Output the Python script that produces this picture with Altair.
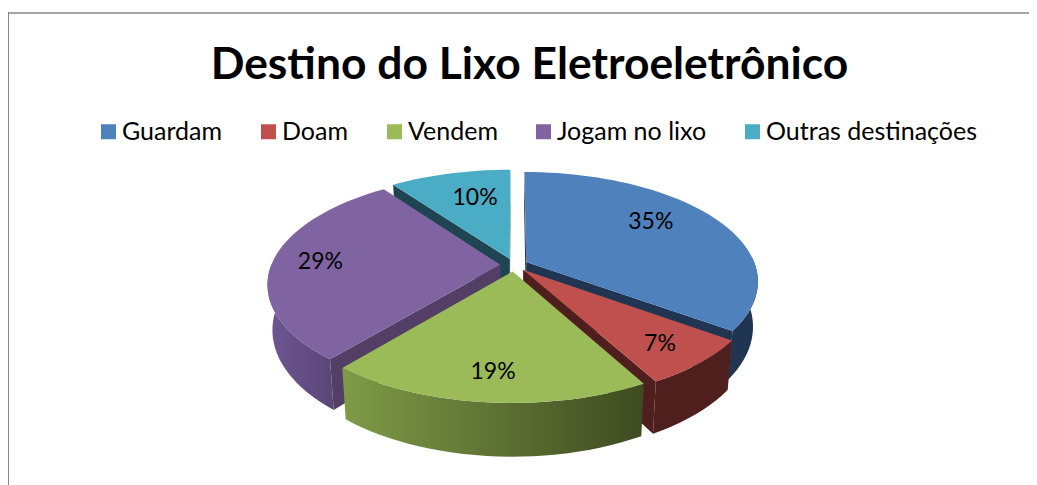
import math
import altair as alt
import pandas as pd

TITLE = "Destino do Lixo Eletroeletrônico"
CATEGORIES = ["Guardam", "Doam", "Vendem", "Jogam no lixo", "Outras destinações"]
SHARES = [35, 7, 19, 29, 10]
PERCENT_TEXT = ["35%", "7%", "19%", "29%", "10%"]

TOP_COLORS = ["#4f81bd", "#c0504d", "#9bbb59", "#8064a2", "#4bacc6"]
CUT_COLORS = ["#1f3552", "#4f1f1d", "#4a5a28", "#533e66", "#1e4551"]


def hgrad(c0, c1):
    return {"gradient": "linear", "x1": 0, "x2": 1, "y1": 0, "y2": 0,
            "stops": [{"offset": 0, "color": c0}, {"offset": 1, "color": c1}]}


WALL_FILLS = ["#1f3552", "#4f1f1d", hgrad("#7f9b47", "#3e4a20"),
              hgrad("#6f5793", "#5a4577"), "#1e4551"]
LABEL_R = [0.716, 0.808, 0.80, 0.79, 0.67]
LABEL_TURN = [-7.7, 0.8, -0.2, 0.1, 3.1]

W, H = 1021, 477
CX, CY, B = 506.0, 257.0, 229.0  # pie centre and radius on the plot
PERSP, RATIO, DEPTH, SHRINK, EXPLODE = 0.1716, 0.465, 0.192, 0.98, 0.06
FONT = "Lato"


def project(theta, r, off_u, off_v, lower=False):
    u = math.sin(theta) * r + off_u
    v = -math.cos(theta) * r + off_v
    den = 1 - PERSP * v
    if lower:
        return u / den * SHRINK, (RATIO * v + DEPTH) / den
    return u / den, RATIO * v / den


def frame(points):
    return pd.DataFrame([{"x": p[0], "y": p[1], "i": n} for n, p in enumerate(points)])


sx = alt.Scale(domain=[-CX / B, (W - CX) / B], nice=False, zero=False)
sy = alt.Scale(domain=[(H - CY) / B, -CY / B], nice=False, zero=False)
X = alt.X("x:Q", scale=sx, axis=None)
Y = alt.Y("y:Q", scale=sy, axis=None)


def polygon(points, fill):
    return (
        alt.Chart(frame(points))
        .mark_line(interpolate="linear-closed", fill=fill, strokeWidth=0)
        .encode(x=X, y=Y, order=alt.Order("i:Q"))
    )


total = sum(SHARES)
starts, acc = [], 0
for s in SHARES:
    starts.append(acc)
    acc += s

solids = {}
label_rows = []
for k, cat in enumerate(CATEGORIES):
    t0 = 2 * math.pi * starts[k] / total
    t1 = 2 * math.pi * (starts[k] + SHARES[k]) / total
    mid = (t0 + t1) / 2
    ou, ov = math.sin(mid) * EXPLODE, -math.cos(mid) * EXPLODE
    n = max(8, int(SHARES[k] * 1.5))
    angles = [t0 + (t1 - t0) * j / n for j in range(n + 1)]
    parts = []
    # cut faces that look toward the viewer
    for t in (t0, t1):
        visible = (t == t0 and (math.sin(t) < 1e-9)) or (t == t1 and (math.sin(t) > -1e-9))
        if visible:
            parts.append(polygon([project(t, 0, ou, ov), project(t, 1, ou, ov),
                                  project(t, 1, ou, ov, True), project(t, 0, ou, ov, True)],
                                 CUT_COLORS[k]))
    # outer wall
    front = [t for t in angles if math.cos(t) < 0.05]
    if len(front) > 1:
        pts = [project(t, 1, ou, ov) for t in front] + \
              [project(t, 1, ou, ov, True) for t in reversed(front)]
        parts.append(polygon(pts, WALL_FILLS[k]))
    # top
    parts.append(polygon([project(t0, 0, ou, ov)] + [project(t, 1, ou, ov) for t in angles],
                         TOP_COLORS[k]))
    solids[k] = parts
    lx, ly = project(mid + math.radians(LABEL_TURN[k]), LABEL_R[k], ou, ov)
    label_rows.append({"x": lx, "y": ly, "cat": cat, "text": PERCENT_TEXT[k]})

labels = pd.DataFrame(label_rows)

legend_layer = (
    alt.Chart(labels)
    .mark_square(size=2, filled=True, opacity=1)
    .encode(
        x=X, y=Y,
        color=alt.Color(
            "cat:N",
            title=None,
            sort=CATEGORIES,
            scale=alt.Scale(domain=CATEGORIES, range=TOP_COLORS),
            legend=alt.Legend(
                orient="none", legendX=88, legendY=111, direction="horizontal", columns=5,
                symbolType="square", symbolSize=225, symbolStrokeWidth=0, symbolOpacity=1,
                labelFont=FONT, labelFontSize=25, labelColor="#000000", labelOffset=1,
                columnPadding=33, labelLimit=300,
            ),
        ),
    )
)

layers = [legend_layer]
for k in [4, 0, 3, 1, 2]:
    layers.extend(solids[k])

text_layer = (
    alt.Chart(labels)
    .mark_text(font=FONT, fontSize=23, color="#000000", align="center", baseline="middle")
    .encode(x=X, y=Y, text="text:N")
)
layers.append(text_layer)

border_left = alt.Chart(frame([(0, 0)])).mark_rule(color="#868686", strokeWidth=2).encode(
    x=alt.value(0), y=alt.value(4), y2=alt.value(H))
border_top = alt.Chart(frame([(0, 0)])).mark_rule(color="#868686", strokeWidth=1.5).encode(
    x=alt.value(0), x2=alt.value(W), y=alt.value(5))
layers += [border_left, border_top]

chart = (
    alt.layer(*layers)
    .properties(
        width=W, height=H, padding=0,
        autosize=alt.AutoSizeParams(type="none"),
        title=alt.TitleParams(TITLE, font=FONT, fontSize=44.4, fontWeight="bold", color="#000000",
                              anchor="middle", dx=11, offset=-80),
    )
    .configure_view(strokeWidth=0)
)

chart.save("out.html", embed_options={"renderer": "svg", "actions": False})
